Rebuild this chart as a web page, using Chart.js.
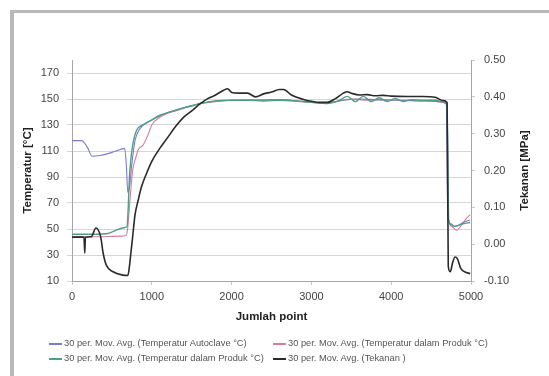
<!DOCTYPE html>
<html lang="id">
<head>
    <meta charset="UTF-8">
    <title>Temperatur dan Tekanan Autoclave</title>
    <script src="https://cdn.jsdelivr.net/npm/chart.js"></script>
    <style>
        body { margin: 0; background: #fff; font-family: "Liberation Sans", Arial, sans-serif; }
        .frame { position: absolute; left: 10px; top: 10px; width: 560px; height: 380px;
                 border-left: 4px solid #b9b9b9; border-top: 3px solid #b9b9b9; }
        #chart { position: absolute; left: 0; top: 0; }
        .legend { position: absolute; left: 49px; top: 338px; display: grid;
                  grid-template-columns: 224px 260px; row-gap: 5px;
                  font-size: 9.3px; color: #555; white-space: nowrap; }
        .legend .line { display: inline-block; width: 13px; height: 0; border-top: 2px solid; vertical-align: middle; margin-right: 2px; }
    </style>
</head>
<body>
    <div class="frame"></div>
    <canvas id="chart" width="549" height="376"></canvas>
    <div class="legend" id="legend"></div>

    <script>
        // values
        const xTicks = [0, 1000, 2000, 3000, 4000, 5000];
        const tempTicks = [10, 30, 50, 70, 90, 110, 130, 150, 170];
        const pressTicks = [-0.1, 0, 0.1, 0.2, 0.3, 0.4, 0.5];

        const autoclaveX = [0, 120, 200, 250, 350, 450, 550, 660, 680, 700, 720, 750, 790, 850, 950, 1100, 1300, 1500, 1700, 2000, 2300, 2600, 2900, 3200, 3400, 3600, 3800, 4000, 4200, 4400, 4600, 4690, 4710, 4750, 4800, 4850, 4900, 4990];
        const autoclaveY = [118, 118, 112, 106, 106.5, 108, 110, 112, 100, 78, 82, 100, 118, 127, 132, 137, 141.5, 145, 147.5, 149, 149, 149.5, 148, 147, 149, 150, 149.5, 149, 149, 148.5, 148, 146, 60, 54, 52, 53, 55, 57];

        const produkAX = [0, 300, 600, 680, 700, 730, 760, 800, 830, 890, 950, 1000, 1100, 1200, 1310, 1420, 1520, 1650, 1800, 2000, 2300, 2600, 2900, 3100, 3300, 3500, 3700, 3900, 4100, 4300, 4500, 4650, 4700, 4720, 4760, 4820, 4880, 4940, 4990];
        const produkAY = [44, 44, 44.5, 45, 52, 75, 95, 105, 111, 114.5, 122, 130, 136, 139, 141, 143.5, 145, 147, 148, 149, 149.5, 149.5, 148, 147, 148, 150, 149, 149.5, 149, 148.5, 148.5, 147.5, 146, 56, 52, 49, 53, 58, 61];

        const produkBX = [0, 300, 450, 550, 650, 690, 700, 720, 740, 765, 810, 870, 940, 1000, 1100, 1200, 1310, 1420, 1520, 1600, 1700, 1800, 2000, 2200, 2400, 2600, 2800, 3000, 3200, 3350, 3450, 3550, 3650, 3750, 3850, 3950, 4050, 4150, 4250, 4400, 4550, 4650, 4700, 4720, 4760, 4800, 4850, 4900, 4990];
        const produkBY = [46, 46, 46.5, 49, 51, 52, 60, 90, 105, 116, 126, 129.5, 132, 134, 137.5, 139.5, 141.5, 143.5, 145, 146.5, 147.5, 148.5, 149, 149, 148.5, 149, 148.5, 147.5, 146.5, 149, 152, 148, 152, 148, 151, 148, 150.5, 148, 149.5, 149, 149, 148, 146, 57, 53, 52, 53, 54, 55];

        const tekananX = [0, 150, 160, 168, 240, 300, 360, 390, 430, 515, 640, 700, 720, 740, 760, 790, 830, 870, 930, 1000, 1100, 1200, 1300, 1400, 1500, 1600, 1700, 1800, 1900, 1950, 2000, 2100, 2200, 2300, 2400, 2500, 2600, 2650, 2750, 2900, 3000, 3100, 3200, 3300, 3400, 3450, 3500, 3600, 3700, 3800, 3900, 4000, 4200, 4400, 4550, 4650, 4700, 4715, 4740, 4770, 4800, 4830, 4870, 4920, 4990];
        const tekananY = [0.019, 0.019, -0.024, 0.019, 0.02, 0.044, 0.019, -0.024, -0.057, -0.075, -0.084, -0.085, -0.06, -0.02, 0.02, 0.08, 0.12, 0.155, 0.19, 0.225, 0.26, 0.29, 0.32, 0.345, 0.362, 0.38, 0.395, 0.405, 0.418, 0.422, 0.412, 0.41, 0.41, 0.40, 0.408, 0.413, 0.42, 0.42, 0.405, 0.393, 0.388, 0.385, 0.385, 0.395, 0.41, 0.414, 0.41, 0.405, 0.406, 0.403, 0.404, 0.402, 0.401, 0.401, 0.399, 0.39, 0.385, -0.06, -0.075, -0.05, -0.035, -0.04, -0.065, -0.075, -0.08];

        const labels = [
            '30 per. Mov. Avg. (Temperatur Autoclave °C)',
            '30 per. Mov. Avg. (Temperatur dalam Produk °C)',
            '30 per. Mov. Avg. (Temperatur dalam Produk °C)',
            '30 per. Mov. Avg. (Tekanan )'
        ];
        const colors = ['#7c7ccc', '#d77d9c', '#4f9f84', '#2a2a2a'];

        const zip = (xs, ys) => xs.map((x, i) => ({ x: x, y: ys[i] }));

        const tickFont = { family: 'Liberation Sans', size: 11 };
        const titleFont = { family: 'Liberation Sans', size: 11.5, weight: 'bold' };

        // right axis title reads bottom-to-top like the left one
        const rightTitle = {
            id: 'rightTitle',
            afterDraw(chart) {
                const s = chart.scales.y1, a = chart.chartArea, ctx = chart.ctx;
                ctx.save();
                ctx.translate(s.left + 54, (a.top + a.bottom) / 2);
                ctx.rotate(-Math.PI / 2);
                ctx.font = 'bold 11.5px "Liberation Sans"';
                ctx.fillStyle = '#222';
                ctx.textAlign = 'center';
                ctx.textBaseline = 'middle';
                ctx.fillText('Tekanan [MPa]', 0, 0);
                ctx.restore();
            }
        };

        const ctx = document.getElementById('chart').getContext('2d');
        const chart = new Chart(ctx, {
            type: 'line',
            data: {
                datasets: [
                    { label: labels[0], data: zip(autoclaveX, autoclaveY), borderColor: colors[0], borderWidth: 1.1, yAxisID: 'y', order: 2 },
                    { label: labels[1], data: zip(produkAX, produkAY), borderColor: colors[1], borderWidth: 1.1, yAxisID: 'y', order: 3 },
                    { label: labels[2], data: zip(produkBX, produkBY), borderColor: colors[2], borderWidth: 1.4, yAxisID: 'y', order: 1 },
                    { label: labels[3], data: zip(tekananX, tekananY), borderColor: colors[3], borderWidth: 1.6, yAxisID: 'y1', order: 0 }
                ]
            },
            options: {
                responsive: false,
                animation: false,
                devicePixelRatio: 1,
                elements: { point: { radius: 0 }, line: { cubicInterpolationMode: 'monotone', fill: false } },
                layout: { padding: { top: 60, left: 0, right: 0, bottom: 0 } },
                plugins: { legend: { display: false }, tooltip: { enabled: false } },
                scales: {
                    x: {
                        type: 'linear', min: 0, max: 5000,
                        afterFit: s => { s.height = 95; },
                        afterBuildTicks: s => { s.ticks = xTicks.map(v => ({ value: v })); },
                        ticks: { font: tickFont, color: '#444', padding: 5, maxRotation: 0, callback: v => String(v) },
                        grid: { drawOnChartArea: false, tickLength: 4, color: '#c8c8c8' },
                        border: { color: '#a6a6a6' },
                        title: { display: true, text: 'Jumlah point', font: titleFont, color: '#222', padding: { top: 0, bottom: 52 } }
                    },
                    y: {
                        position: 'left', min: 10, max: 180,
                        afterFit: s => { s.width = 72; },
                        afterBuildTicks: s => { s.ticks = tempTicks.map(v => ({ value: v })); },
                        ticks: { font: tickFont, color: '#444', padding: 8 },
                        grid: { color: '#d6d6d6', tickLength: 5 },
                        border: { color: '#a6a6a6' },
                        title: { display: true, text: 'Temperatur [°C]', font: titleFont, color: '#222', padding: { top: 21, bottom: 0 } }
                    },
                    y1: {
                        position: 'right', min: -0.1, max: 0.5,
                        afterFit: s => { s.width = 78; },
                        afterBuildTicks: s => { s.ticks = pressTicks.map(v => ({ value: v })); },
                        ticks: { font: tickFont, color: '#444', padding: 9, callback: v => v.toFixed(2) },
                        grid: { drawOnChartArea: false, tickLength: 4, color: '#c8c8c8' },
                        border: { color: '#a6a6a6' }
                    }
                }
            },
            plugins: [rightTitle]
        });

        // legend in two columns like the original
        const legendEl = document.getElementById('legend');
        labels.forEach((txt, i) => {
            const item = document.createElement('div');
            const line = document.createElement('span');
            line.className = 'line';
            line.style.borderTopColor = colors[i];
            item.appendChild(line);
            item.appendChild(document.createTextNode(txt));
            legendEl.appendChild(item);
        });
    </script>
</body>
</html>
